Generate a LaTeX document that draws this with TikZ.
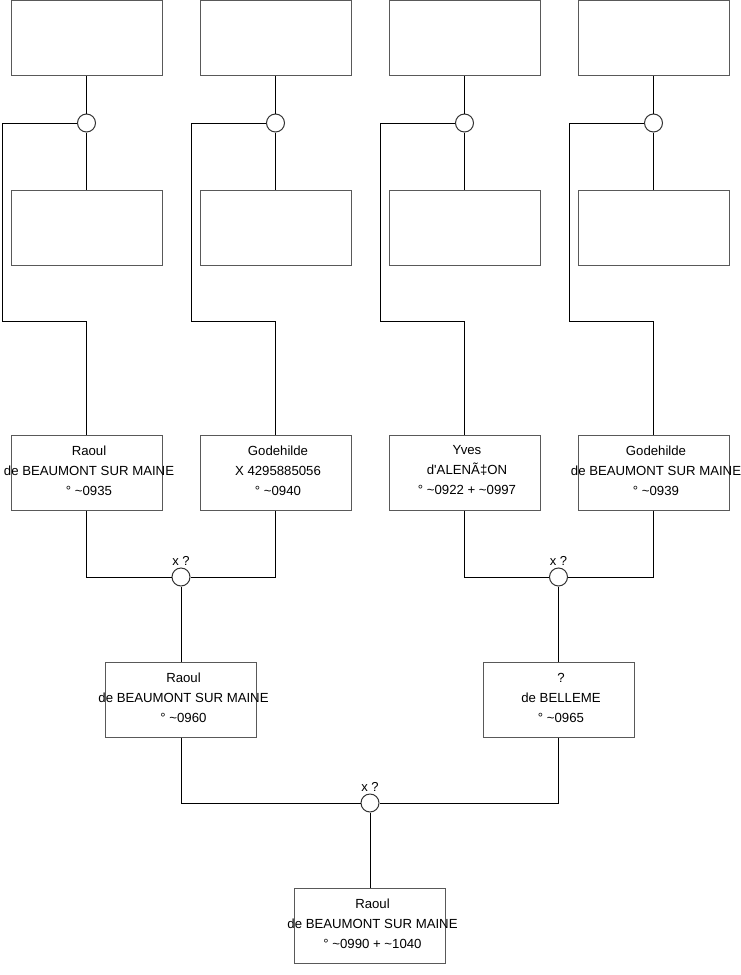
\documentclass[tikz,border=0pt]{standalone}
\usepackage{fontspec}
\newfontfamily\boxfont{Liberation Sans}
\usepackage{tikz}
\usetikzlibrary{positioning, calc}

\newcommand{\tld}{\textasciitilde}

\begin{document}
\begin{tikzpicture}[
    x=1pt, y=-1pt,
    box/.style={rectangle, draw=black!65, line width=1pt, fill=white, minimum width=151pt, minimum height=75pt, inner sep=0pt},
    person/.style={box, label={[align=center, inner sep=0pt, xshift=2.5pt, yshift=2pt, font=\boxfont\fontsize{13.2}{20}\selectfont]center:{#1}}},
    union/.style={circle, draw=black!80, line width=1pt, fill=white, minimum size=18pt, inner sep=0pt},
    link/.style={line width=1pt, black},
    mlabel/.style={above=1pt, inner sep=1pt, font=\boxfont\fontsize{13}{14}\selectfont},
  ]
  \useasboundingbox (0,0) rectangle (740,975);

  % Great-grandparents (unknown)
  \node[box] (g1a) at (86.5,38) {};
  \node[box] (g2a) at (275.5,38) {};
  \node[box] (g3a) at (464.5,38) {};
  \node[box] (g4a) at (653.5,38) {};

  \node[box] (g1b) at (86.5,227.5) {};
  \node[box] (g2b) at (275.5,227.5) {};
  \node[box] (g3b) at (464.5,227.5) {};
  \node[box] (g4b) at (653.5,227.5) {};

  % Unions of great-grandparents
  \node[union] (u1) at (86.5,123) {};
  \node[union] (u2) at (275.5,123) {};
  \node[union] (u3) at (464.5,123) {};
  \node[union] (u4) at (653.5,123) {};

  % Grandparents
  \node[person={Raoul\\de BEAUMONT SUR MAINE\\° \tld0935}] (p1) at (86.5,472.5) {};
  \node[person={Godehilde\\X 4295885056\\° \tld0940}] (p2) at (275.5,472.5) {};
  \node[person={Yves\\d'ALENÃ‡ON\\° \tld0922 + \tld0997}] (p3) at (464.5,472.5) {};
  \node[person={Godehilde\\de BEAUMONT SUR MAINE\\° \tld0939}] (p4) at (653.5,472.5) {};

  % Unions of grandparents
  \node[union] (m1) at (181,577) {};
  \node[union] (m2) at (558.5,577) {};
  \node[mlabel] at (m1.north) {x ?};
  \node[mlabel] at (m2.north) {x ?};

  % Parents
  \node[person={Raoul\\de BEAUMONT SUR MAINE\\° \tld0960}] (f) at (181,699.5) {};
  \node[person={?\\de BELLEME\\° \tld0965}] (m) at (558.5,699.5) {};

  % Union of parents
  \node[union] (mb) at (370,803) {};
  \node[mlabel] at (mb.north) {x ?};

  % Subject
  \node[person={Raoul\\de BEAUMONT SUR MAINE\\° \tld0990 + \tld1040}] (s) at (370,925.5) {};

  % Corners of the descent lines
  \coordinate (k1) at (2,321);
  \coordinate (k2) at (191,321);
  \coordinate (k3) at (380,321);
  \coordinate (k4) at (569,321);

  % Links, top generation
  \foreach \i in {1,2,3,4} {
    \draw[link] (g\i a.south) -- (u\i.north);
    \draw[link] (u\i.south) -- (g\i b.north);
    \draw[link] (u\i.west) -| (k\i) -| (p\i.north);
  }

  % Links, grandparents
  \draw[link] (p1.south) |- (m1.west);
  \draw[link] (p2.south) |- (m1.east);
  \draw[link] (p3.south) |- (m2.west);
  \draw[link] (p4.south) |- (m2.east);
  \draw[link] (m1.south) -- (f.north);
  \draw[link] (m2.south) -- (m.north);

  % Links, parents
  \draw[link] (f.south) |- (mb.west);
  \draw[link] (m.south) |- (mb.east);
  \draw[link] (mb.south) -- (s.north);

\end{tikzpicture}
\end{document}
